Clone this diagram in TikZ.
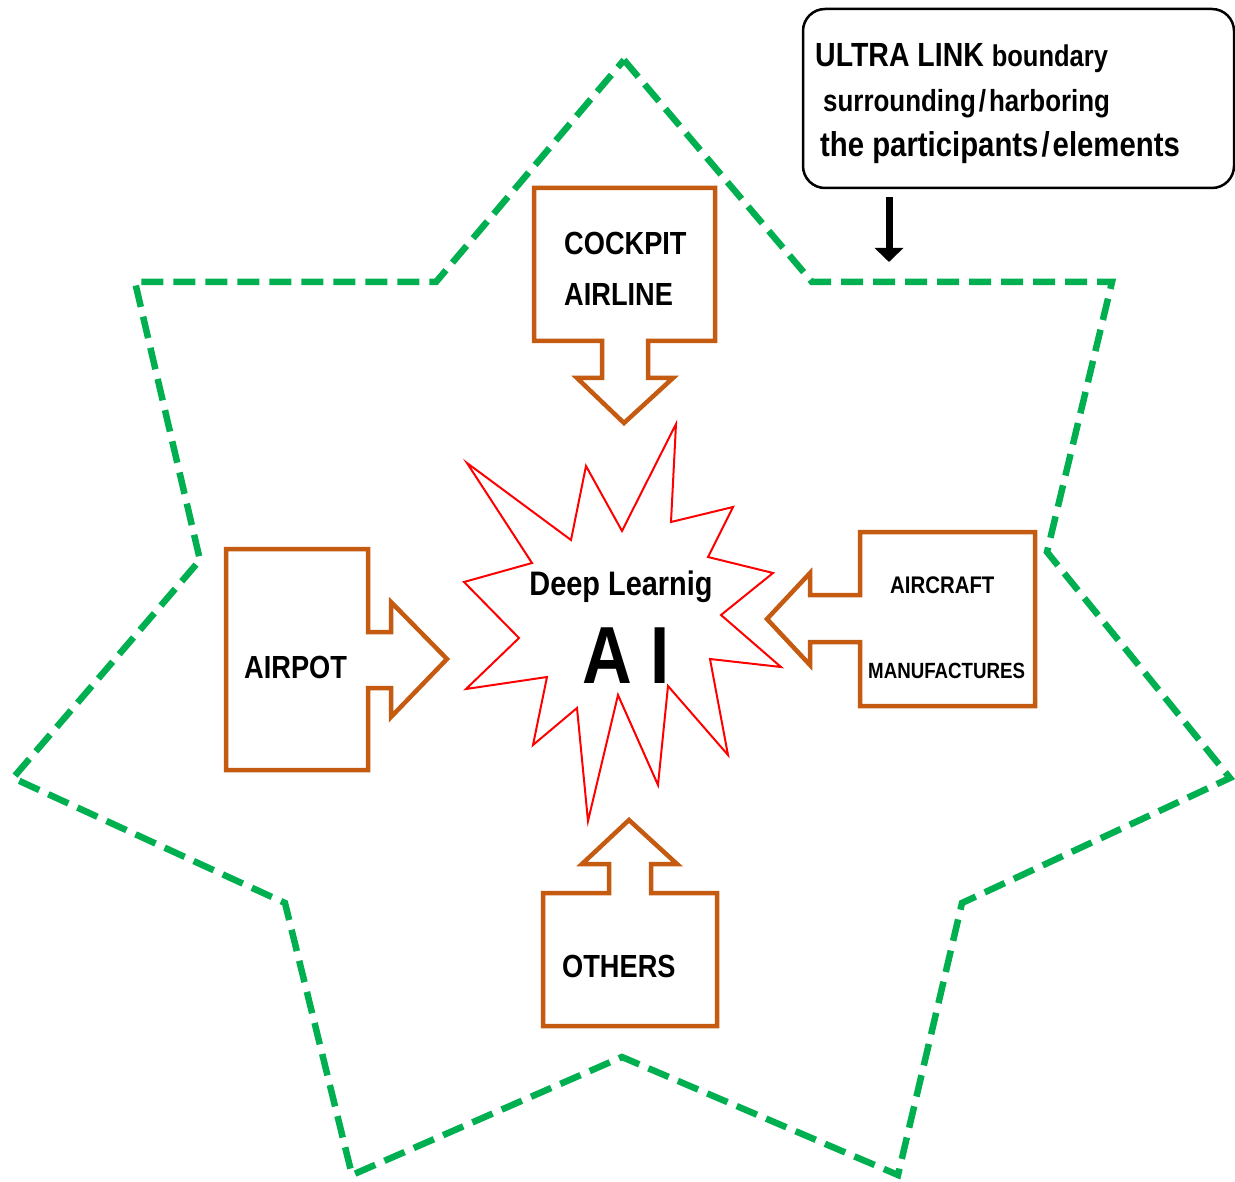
\documentclass[tikz,border=0pt]{standalone}
\usepackage{fontspec}
\newfontfamily\gothic[FakeStretch=0.85]{Liberation Sans}
\usepackage{xcolor}
\usepackage{tikz}
\usetikzlibrary{arrows.meta,calc,positioning}
\definecolor{bordergreen}{RGB}{0,176,80}
\definecolor{boxorange}{RGB}{197,90,17}
\newcommand{\sep}{\kern3pt/\kern3pt}

\begin{document}
\begin{tikzpicture}
[x=1pt,y=-1pt,
 every node/.style={inner sep=0pt},
 boxarrow/.style={draw=boxorange,line width=4.5pt,line join=miter,fill=white},
 boundary/.style={draw=bordergreen,line width=6.5pt,dash pattern=on 22pt off 10pt},
 burst/.style={draw=red,line width=2pt,line join=miter},
 txt/.style={anchor=west,font=\gothic\bfseries\fontsize{#1}{51}\selectfont},
 note/.style={anchor=base west,font=\gothic\bfseries\fontsize{#1}{#1}\selectfont}]
\useasboundingbox (0,0) rectangle (1235,1182);

% ULTRA LINK boundary
\draw[boundary] (624,60) -- (812,282) -- (1112,282) -- (1047,552) -- (1230,778)
  -- (962,903) -- (898,1175) -- (622,1057) -- (352,1175) -- (285,903)
  -- (13,778) -- (200,560) -- (135,282) -- (436,282) -- cycle;

% participants
\draw[boxarrow] (534,188) -- (715,188) -- (715,341) -- (648,341) -- (648,378)
  -- (673,378) -- (624,423) -- (577,378) -- (602,378) -- (602,341) -- (534,341) -- cycle;
\draw[boxarrow] (226,549) -- (368,549) -- (368,632) -- (391,632) -- (391,602)
  -- (447,659) -- (391,717) -- (391,688) -- (368,688) -- (368,770) -- (226,770) -- cycle;
\draw[boxarrow] (1035,532) -- (1035,706) -- (860,706) -- (860,642) -- (810,642)
  -- (810,665) -- (767,619) -- (810,573) -- (810,595) -- (860,595) -- (860,532) -- cycle;
\draw[boxarrow] (543,893) -- (609,893) -- (609,864) -- (582,864) -- (629,820)
  -- (677,864) -- (651,864) -- (651,893) -- (717,893) -- (717,1026) -- (543,1026) -- cycle;

% AI burst
\draw[burst] (467,463) -- (571,540) -- (586,466) -- (622,531) -- (676,424)
  -- (671,522) -- (733,507) -- (708,557) -- (773,573) -- (721,615) -- (781,667)
  -- (710,659) -- (728,755) -- (668,686) -- (658,785) -- (618,695) -- (588,821)
  -- (577,708) -- (533,745) -- (547,677) -- (466,689) -- (519,638) -- (464,582)
  -- (532,563) -- cycle;

\node[txt=32,align=left] (cockpit) at (564,269) {COCKPIT\\AIRLINE};
\node[txt=32] (airpot) at (244,667) {AIRPOT};
\node[txt=24] (aircraft) at (890,585) {AIRCRAFT};
\node[txt=22] (manuf) at (868,671) {MANUFACTURES};
\node[txt=32] (others) at (562,966) {OTHERS};
\node[note=34,anchor=base] (deep) at (621,595) {Deep Learnig};
\node[note=81,anchor=base] (ai) at (626,683) {A I};

% callout
\node[draw,rounded corners=22pt,line width=2.5pt,minimum width=431pt,
  minimum height=179pt] (callout) at (1018.5,98.5) {};
\node[note=33.5] (ultra) at (815,67) {ULTRA LINK {\fontsize{30}{30}\selectfont boundary}};
\node[note=30.5] (surr) at (823,112) {surrounding\sep harboring};
\node[note=34.5] (part) at (820,157) {the participants\sep elements};
\coordinate (mark) at (889,262);
\draw[line width=7pt,-{Triangle[length=14pt,width=28pt]},shorten <=8pt]
  (callout.south -| mark) -- (mark);
\end{tikzpicture}
\end{document}
